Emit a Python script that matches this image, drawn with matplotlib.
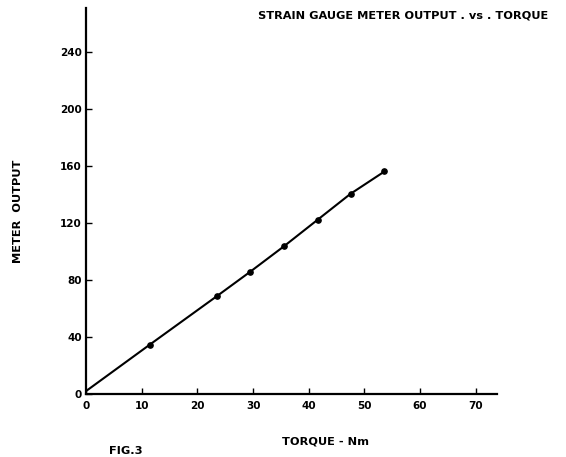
import matplotlib
matplotlib.use("Agg")
import matplotlib.pyplot as plt

# ── Data ─────────────────────────────────────────────────────────────────────
torque = [11.4, 23.6, 29.4, 35.5, 41.6, 47.5, 53.6]      # N·m
meter_output = [34.5, 69.0, 85.6, 103.6, 122.4, 140.6, 156.3]
line_start = (0.0, 2.0)

x_ticks = [0, 10, 20, 30, 40, 50, 60, 70]
y_ticks = [0, 40, 80, 120, 160, 200, 240]
y_tick_labels = ["0", "40", "80", "120", "160", "200", "240"]

# ── Figure ───────────────────────────────────────────────────────────────────
fig = plt.figure(figsize=(5.66, 4.57), dpi=100)
ax = fig.add_axes([0.152, 0.138, 0.726, 0.844])

tick_font = dict(family="DejaVu Sans", fontweight="bold", fontsize=7.5)
text_font = dict(family="DejaVu Sans", fontweight="bold", fontsize=8.2)

ax.plot([line_start[0]] + torque, [line_start[1]] + meter_output,
        color="black", linewidth=1.5)
ax.plot(torque, meter_output, "o", color="black", markersize=3.8)

ax.set_xlim(0, 73.8)
ax.set_ylim(0, 271)
ax.set_xticks(x_ticks)
ax.set_yticks(y_ticks)
ax.set_xticklabels([str(t) for t in x_ticks], **tick_font)
ax.set_yticklabels(y_tick_labels, **tick_font)
ax.tick_params(direction="in", length=4, width=1, pad=3)
ax.tick_params(axis="x", pad=5)

for side in ["top", "right"]:
    ax.spines[side].set_visible(False)
for side in ["left", "bottom"]:
    ax.spines[side].set_linewidth(1.6)

fig.text(18 / 566, 1 - 211 / 457, "METER  OUTPUT", rotation=90,
         ha="center", va="center", **text_font)
fig.text(326 / 566, 1 - 441 / 457, "TORQUE - Nm", ha="center", va="center", **text_font)
fig.text(126 / 566, 1 - 451 / 457, "FIG.3", ha="center", va="center", **text_font)
fig.text(548 / 566, 1 - 15 / 457, "STRAIN GAUGE METER OUTPUT . vs . TORQUE",
         ha="right", va="center", **text_font)

fig.savefig("out.png", dpi=100)
plt.close(fig)
